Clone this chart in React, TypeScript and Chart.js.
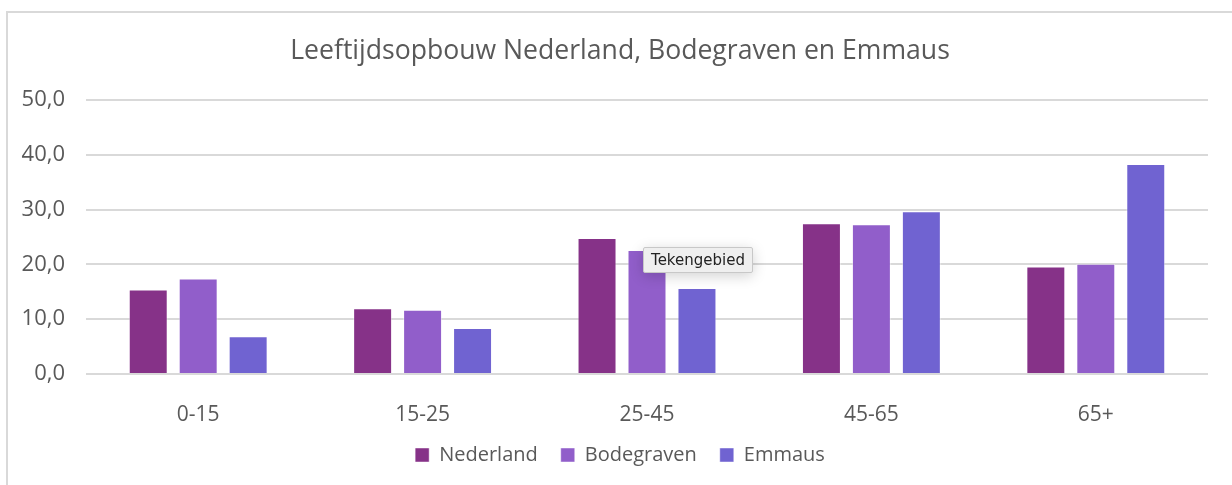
import React, { useEffect, useRef } from "react";
import { Chart, registerables } from "chart.js";

Chart.register(...registerables);

const categories = ["0-15", "15-25", "25-45", "45-65", "65+"];
const nederland = [15.4, 12.0, 24.8, 27.5, 19.6];
const bodegraven = [17.4, 11.7, 22.6, 27.3, 20.1];
const emmaus = [6.9, 8.4, 15.7, 29.7, 38.3];
const yTicks = [0, 10, 20, 30, 40, 50];
const titleText = "Leeftijdsopbouw Nederland, Bodegraven en Emmaus";
const tooltipText = "Tekengebied";

const FONT = "'Open Sans', sans-serif";
const TEXT = "#595959";

export default function App() {
  const ref = useRef<HTMLCanvasElement | null>(null);

  useEffect(() => {
    if (!ref.current) return;
    const chart = new Chart(ref.current, {
      type: "bar",
      data: {
        labels: categories,
        datasets: [
          { label: "Nederland", data: nederland, backgroundColor: "#863288", borderColor: "rgba(255,255,255,0.45)", borderWidth: 1 },
          { label: "Bodegraven", data: bodegraven, backgroundColor: "#915ECA", borderColor: "rgba(255,255,255,0.45)", borderWidth: 1 },
          { label: "Emmaus", data: emmaus, backgroundColor: "#7063D1", borderColor: "rgba(255,255,255,0.45)", borderWidth: 1 },
        ],
      },
      options: {
        animation: false,
        responsive: false,
        maintainAspectRatio: false,
        layout: { padding: { left: 0, right: 0, top: 0, bottom: 10 } },
        datasets: { bar: { categoryPercentage: 0.668, barPercentage: 0.78 } },
        plugins: {
          tooltip: { enabled: false },
          title: {
            display: true,
            text: titleText,
            color: TEXT,
            font: { family: FONT, size: 26.6, weight: "normal" },
            padding: { top: 35, bottom: 33 },
          },
          legend: {
            position: "bottom",
            labels: {
              color: TEXT,
              font: { family: FONT, size: 20 },
              boxWidth: 14,
              boxHeight: 14,
              padding: 23,
            },
          },
        },
        scales: {
          x: {
            grid: { display: false },
            border: { display: false },
            ticks: { color: TEXT, font: { family: FONT, size: 21 }, padding: 20 },
            afterFit: (scale: any) => {
              scale.height = 48;
            },
          },
          y: {
            min: 0,
            max: 50,
            afterBuildTicks: (scale: any) => {
              scale.ticks = yTicks.map((v) => ({ value: v }));
            },
            afterFit: (scale: any) => {
              scale.width = 86;
            },
            grid: { color: "#d9d9d9", lineWidth: 2, drawTicks: false },
            border: { display: false },
            ticks: {
              color: TEXT,
              font: { family: FONT, size: 22 },
              padding: 21,
              callback: (v: any) => Number(v).toFixed(1).replace(".", ","),
            },
          },
          yRight: {
            position: "right",
            display: true,
            grid: { display: false, drawTicks: false },
            border: { display: false },
            ticks: { display: false },
            afterFit: (scale: any) => {
              scale.width = 32;
            },
          },
        },
      },
    });
    return () => chart.destroy();
  }, []);

  return (
    <div style={{ position: "fixed", left: 0, top: 0, width: 1232, height: 485, overflow: "hidden", background: "#fff" }}>
      <div style={{ position: "absolute", left: 6, top: 11, width: 1260, height: 520, border: "2px solid #d9d9d9", boxSizing: "border-box" }} />
      <canvas ref={ref} width={1240} height={485} style={{ position: "absolute", left: 0, top: 0, width: 1240, height: 485 }} />
      <div
        style={{
          position: "absolute",
          left: 643,
          top: 247,
          width: 110,
          height: 26,
          boxSizing: "border-box",
          background: "#efefef",
          border: "1px solid #c8c8c8",
          borderRadius: 2,
          boxShadow: "0 3px 14px rgba(0,0,0,0.18)",
          fontFamily: "'DejaVu Sans', sans-serif",
          fontSize: 15,
          color: "#222",
          lineHeight: "24px",
          textAlign: "center",
        }}
      >
        {tooltipText}
      </div>
    </div>
  );
}
